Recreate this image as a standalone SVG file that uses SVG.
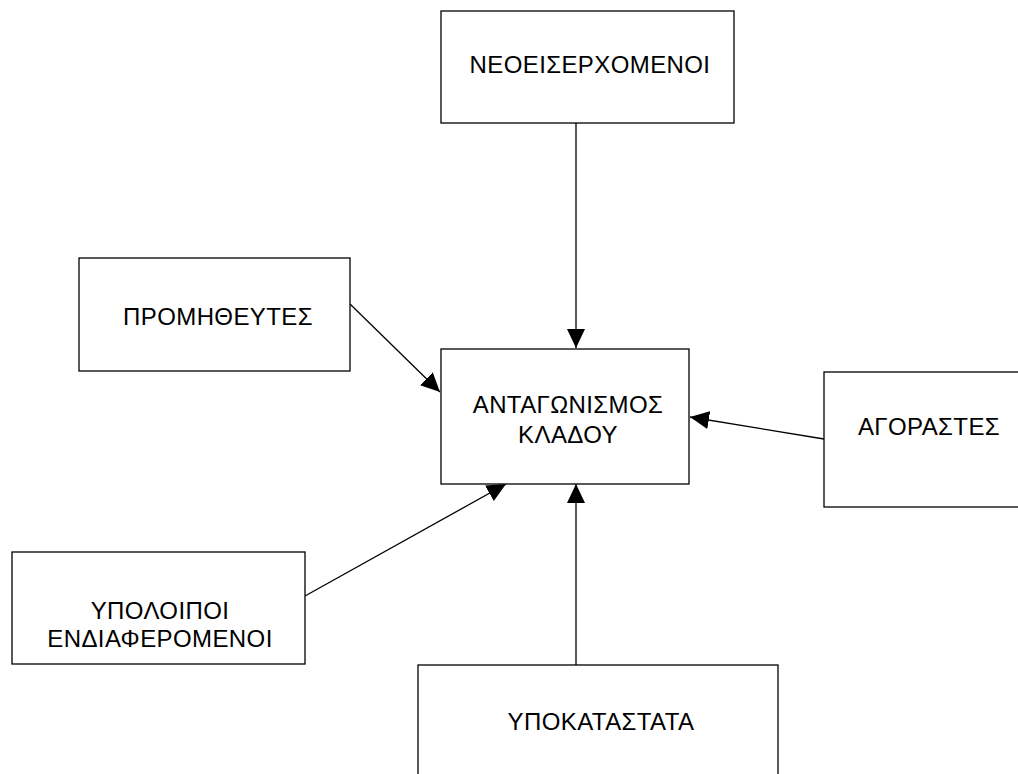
<svg xmlns="http://www.w3.org/2000/svg" width="1018" height="774" viewBox="0 0 1018 774">
  <style>
    .box { fill: #ffffff; stroke: #000000; stroke-width: 1.3; }
    .lbl { font-family: "Liberation Sans", Arial, sans-serif; font-size: 24px; letter-spacing: 0.4px; fill: #000000; text-anchor: middle; }
    .edge { stroke: #000000; stroke-width: 1.3; fill: none; marker-end: url(#arrow); }
  </style>
  <defs>
    <marker id="arrow" markerUnits="userSpaceOnUse" markerWidth="20" markerHeight="20" refX="19" refY="9" orient="auto">
      <path d="M0,0 L19,9 L0,18 Z" fill="#000000"/>
    </marker>
  </defs>
  <rect width="1018" height="774" fill="#ffffff"/>

  <g id="connectors">
    <line class="edge" x1="576" y1="123" x2="576" y2="348"/>
    <line class="edge" x1="350" y1="304" x2="440" y2="392"/>
    <line class="edge" x1="824" y1="439" x2="690" y2="417"/>
    <line class="edge" x1="305" y1="596" x2="506" y2="484"/>
    <line class="edge" x1="576" y1="665" x2="576" y2="484"/>
  </g>

  <g id="neoeiserxomenoi">
    <rect class="box" x="441" y="11" width="293" height="112"/>
    <text class="lbl" x="590" y="73">ΝΕΟΕΙΣΕΡΧΟΜΕΝΟΙ</text>
  </g>

  <g id="promitheutes">
    <rect class="box" x="79" y="258" width="271" height="113"/>
    <text class="lbl" x="218" y="325">ΠΡΟΜΗΘΕΥΤΕΣ</text>
  </g>

  <g id="antagonismos">
    <rect class="box" x="441" y="349" width="248" height="135"/>
    <text class="lbl" x="568" y="413">ΑΝΤΑΓΩΝΙΣΜΟΣ</text>
    <text class="lbl" x="568" y="443">ΚΛΑΔΟΥ</text>
  </g>

  <g id="agorastes">
    <rect class="box" x="824" y="372" width="220" height="135"/>
    <text class="lbl" x="929" y="435">ΑΓΟΡΑΣΤΕΣ</text>
  </g>

  <g id="ypoloipoi">
    <rect class="box" x="12" y="552" width="293" height="112"/>
    <text class="lbl" x="160" y="619">ΥΠΟΛΟΙΠΟΙ</text>
    <text class="lbl" x="160" y="647">ΕΝΔΙΑΦΕΡΟΜΕΝΟΙ</text>
  </g>

  <g id="ypokatastata">
    <rect class="box" x="418" y="665" width="360" height="135"/>
    <text class="lbl" x="601" y="730">ΥΠΟΚΑΤΑΣΤΑΤΑ</text>
  </g>
</svg>
